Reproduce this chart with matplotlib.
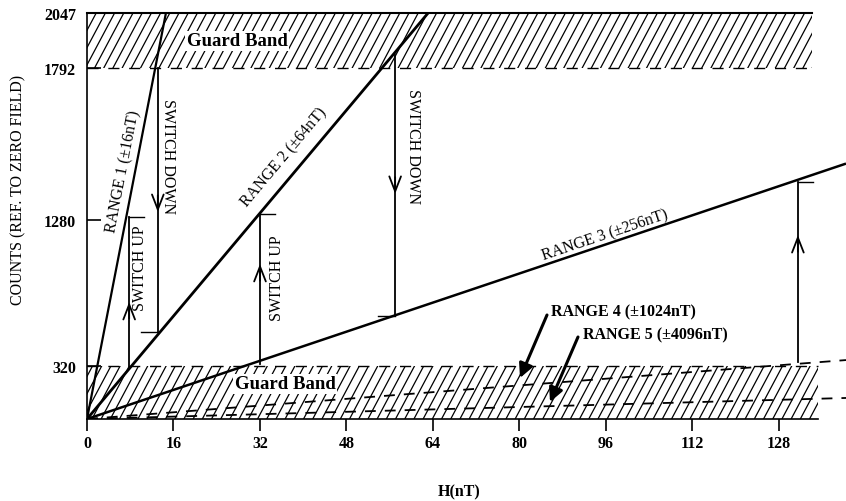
import numpy as np
import matplotlib.pyplot as plt
from matplotlib.patches import Rectangle
from matplotlib.collections import LineCollection

plt.rcParams['font.family'] = ['Liberation Serif', 'DejaVu Serif']

W, H = 846, 502

# schematic (non-uniform) count axis
levels = [0, 320, 1280, 1792, 2047]
level_pos = [0, 53, 199, 351, 406]

x_ticks = [0, 16, 32, 48, 64, 80, 96, 112, 128]
y_ticks = [320, 1280, 1792, 2047]

# solid ranges: end point of each straight line from the origin
range_labels = ['RANGE 1 (±16nT)', 'RANGE 2 (±64nT)', 'RANGE 3 (±256nT)']
range_end_x = [14.6, 63.1, 140.4]
range_end_y = [2047, 2047, 1470]
range_lw = [1.6, 2.0, 1.8]

# dashed ranges inside the lower guard band
low_labels = ['RANGE 4 (±1024nT)', 'RANGE 5 (±4096nT)']
low_end_x = [140.4, 140.4]
low_end_y = [359, 127]

# switch up / switch down transitions
switch_x = [7.8, 13.1, 32.0, 57.0, 131.5]
switch_lo = [320, 544, 335, 649, 345]
switch_hi = [1290, 1792, 1300, 1850, 1408]
switch_tip = [741, 1307, 991, 1368, 1181]
switch_dir = ['up', 'down', 'up', 'down', 'up']
guard_top = [1792, 2047]
guard_low = [0, 320]


def fwd(y):
    return np.interp(y, levels, level_pos)


def inv(p):
    return np.interp(p, level_pos, levels)


def ff(px, py):
    return (px / W, 1 - py / H)


fig = plt.figure(figsize=(W / 100, H / 100), dpi=100)
ax = fig.add_axes([87 / W, 1 - 420 / H, (W - 87) / W, 406 / H])
ax.set_yscale('function', functions=(fwd, inv))
ax.set_xlim(0, 140.4)
ax.set_ylim(0, 2047)


def hatch_band(y0, y1, xmax):
    # steep diagonal hatching, clipped to the band
    rect = Rectangle((0, y0), xmax, y1 - y0, fill=False, lw=0)
    ax.add_patch(rect)
    dx = 406 / np.tan(np.radians(62)) / 759
    step = 9.2 / 759
    segs = [[(s, 0), (s + dx, 1)] for s in np.arange(-dx, 1.0, step)]
    lc = LineCollection(segs, colors='k', linewidths=0.9, transform=ax.transAxes)
    ax.add_collection(lc)
    lc.set_clip_path(rect)


# guard bands
hatch_band(guard_top[0], guard_top[1], 134.1)
ax.plot([0, 134.1], [guard_top[1]] * 2, color='k', lw=1.5, clip_on=False)
ax.plot([0, 134.1], [guard_top[0]] * 2, color='k', lw=1, ls=(0, (8, 7)))
hatch_band(guard_low[0], guard_low[1], 135.2)
ax.plot([0, 135.2], [guard_low[1]] * 2, color='k', lw=1, ls=(0, (8, 7)))

# range lines
for xe, ye, lw in zip(range_end_x, range_end_y, range_lw):
    ax.plot([0, xe], [0, ye], color='k', lw=lw, solid_capstyle='butt')
for xe, ye in zip(low_end_x, low_end_y):
    ax.plot([0, xe], [0, ye], color='k', lw=1.3, ls=(0, (6, 5)))

# switch arrows
for x, lo, hi, tip, d in zip(switch_x, switch_lo, switch_hi, switch_tip, switch_dir):
    ax.plot([x, x], [lo, hi], color='k', lw=1.3)
    if d == 'up':
        ax.plot([x, x + 2.8], [hi, hi], color='k', lw=1)
        off = (0, -12)
    else:
        ax.plot([x - 3.2, x], [lo, lo], color='k', lw=1)
        off = (0, 12)
    ax.annotate('', xy=(x, tip), xytext=off, textcoords='offset points',
                arrowprops=dict(arrowstyle='->, head_length=0.9, head_width=0.35',
                                color='k', lw=1.3, mutation_scale=12,
                                shrinkA=0, shrinkB=0))

# axes styling
for s in ['top', 'right']:
    ax.spines[s].set_visible(False)
ax.spines['left'].set_linewidth(1.2)
ax.spines['bottom'].set_linewidth(1.2)
ax.spines['bottom'].set_bounds(0, 135.2)
ax.set_xticks(x_ticks)
ax.set_xticklabels([str(t) for t in x_ticks], fontweight='bold', fontsize=11.5)
ax.set_yticks(y_ticks)
ax.set_yticklabels([str(t) for t in y_ticks], fontweight='bold', fontsize=11.5)
ax.yaxis.set_minor_locator(plt.NullLocator())
ax.tick_params(axis='x', direction='out', length=8.5, width=1.2, pad=3)
ax.tick_params(axis='y', direction='in', length=10, width=1.2, pad=8)


def line_angle(x1, y1):
    p0 = ax.transData.transform((0, 0))
    p1 = ax.transData.transform((x1, y1))
    return np.degrees(np.arctan2(p1[1] - p0[1], p1[0] - p0[0]))


range_label_px = [(123, 172), (284, 158), (605, 236)]
for lab, (px, py), xe, ye in zip(range_labels, range_label_px, range_end_x, range_end_y):
    fig.text(*ff(px, py), lab, rotation=line_angle(xe, ye), rotation_mode='anchor',
             ha='center', va='center', fontsize=11.5)

# switch labels
for (px, py), s, rot in [((168, 157), 'SWITCH DOWN', 270), ((140, 268), 'SWITCH UP', 90),
                         ((277, 278), 'SWITCH UP', 90), ((413, 147), 'SWITCH DOWN', 270)]:
    fig.text(*ff(px, py), s, rotation=rot, ha='center', va='center', fontsize=11.5)

# guard band labels
for px, py in [(237, 42), (285, 385)]:
    fig.text(*ff(px, py), 'Guard Band', ha='center', va='center', fontsize=13.5,
             fontweight='bold',
             bbox=dict(facecolor='white', edgecolor='none', pad=1))

# range 4 / 5 labels and pointers
for lab, (tx, ty), (ax0, ay0), (ax1, ay1) in zip(
        low_labels, [(551, 312), (583, 335)],
        [(547, 316), (578, 338)], [(520, 379), (550, 403)]):
    fig.text(*ff(tx, ty), lab, ha='left', va='center', fontsize=11.5, fontweight='bold')
    ax.annotate('', xy=ff(ax1, ay1), xycoords='figure fraction',
                xytext=ff(ax0, ay0), textcoords='figure fraction',
                arrowprops=dict(arrowstyle='-|>, head_length=0.6, head_width=0.3',
                                color='k', lw=2.2, mutation_scale=14,
                                shrinkA=0, shrinkB=0))

fig.text(*ff(18, 190), 'COUNTS (REF. TO ZERO FIELD)', rotation=90,
         ha='center', va='center', fontsize=11.5)
fig.text(*ff(459, 492), 'H(nT)', ha='center', va='center', fontsize=11.5,
         fontweight='bold')

fig.savefig('out.png', dpi=100)
